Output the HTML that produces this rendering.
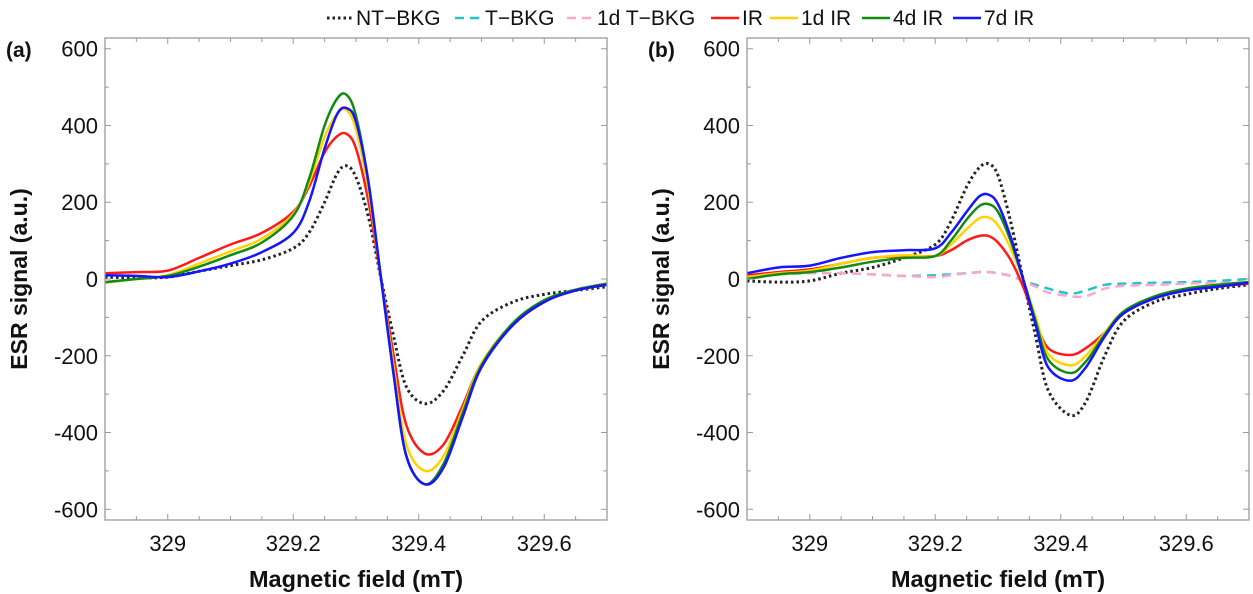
<!DOCTYPE html>
<html><head><meta charset="utf-8"><style>
body{margin:0;background:#fff;}
svg{display:block;font-family:"Liberation Sans",Arial,sans-serif;}
</style></head><body>
<svg id="chart" width="1253" height="594" viewBox="0 0 1253 594"></svg>
<script>
const fieldA = [328.9,328.95,329.0,329.05,329.1,329.15,329.2,329.225,329.25,329.27,329.285,329.3,329.32,329.34,329.36,329.38,329.41,329.44,329.47,329.5,329.55,329.6,329.65,329.7];
const aNT  = [5,3,5,20,35,50,80,120,200,275,295,265,160,0,-150,-280,-325,-290,-200,-110,-60,-40,-30,-20];
const aIR  = [15,18,22,55,90,120,175,240,330,372,378,340,200,0,-200,-380,-455,-430,-330,-220,-120,-60,-30,-15];
const a1d  = [-10,0,10,40,72,105,170,250,370,430,440,390,230,0,-230,-430,-500,-460,-340,-220,-115,-55,-30,-15];
const a4d  = [-8,0,8,32,62,95,165,260,400,470,480,425,250,0,-250,-460,-535,-480,-350,-225,-115,-55,-28,-12];
const a7d  = [10,8,5,20,40,70,120,200,340,430,445,410,250,0,-250,-460,-535,-490,-360,-230,-120,-60,-30,-15];
const fieldB = [328.9,328.95,329.0,329.05,329.1,329.15,329.2,329.225,329.25,329.27,329.285,329.3,329.32,329.34,329.36,329.38,329.415,329.44,329.47,329.5,329.55,329.6,329.65,329.7];
const bNT  = [-5,-8,-5,15,30,55,90,150,240,290,300,270,150,0,-150,-290,-355,-320,-200,-110,-60,-40,-25,-15];
const bT   = [10,12,15,15,12,8,10,12,15,18,18,15,8,-5,-15,-25,-38,-30,-15,-12,-10,-8,-5,0];
const b1dT = [10,12,15,15,12,8,5,10,15,18,18,15,8,-5,-20,-35,-45,-45,-25,-18,-15,-12,-10,-10];
const bIR  = [10,18,25,40,55,60,60,75,100,112,112,95,50,-20,-110,-180,-198,-180,-140,-90,-50,-30,-20,-12];
const b1d  = [5,15,22,40,55,62,60,90,130,158,160,140,80,0,-100,-195,-225,-200,-140,-85,-45,-25,-15,-8];
const b4d  = [0,12,18,30,45,55,60,100,155,190,195,175,100,0,-110,-210,-245,-215,-145,-85,-45,-25,-15,-8];
const b7d  = [15,30,35,55,70,75,80,120,175,215,220,195,110,0,-120,-230,-265,-230,-150,-90,-50,-30,-20,-10];
const xTicks = [329,329.2,329.4,329.6];
const xTickLabels = ["329","329.2","329.4","329.6"];
const yTicks = [600,400,200,0,-200,-400,-600];
const yTickLabels = ["600","400","200","0","-200","-400","-600"];
const legendLabels = ["NT\u2212BKG","T\u2212BKG","1d T\u2212BKG","IR","1d IR","4d IR","7d IR"];

const NS="http://www.w3.org/2000/svg";
const svg=document.getElementById('chart');
function mk(tag,attrs,parent){const e=document.createElementNS(NS,tag);for(const k in attrs)e.setAttribute(k,attrs[k]);(parent||svg).appendChild(e);return e;}
const styles={
 NT:{stroke:"#222",dash:"2.5,3",w:3},
 T:{stroke:"#22c4c4",dash:"9,6",w:2.5},
 T1:{stroke:"#ffa6cc",dash:"9,6",w:2.5},
 IR:{stroke:"#ff1a1a",dash:"",w:2.5},
 d1:{stroke:"#ffd200",dash:"",w:2.5},
 d4:{stroke:"#138a13",dash:"",w:2.5},
 d7:{stroke:"#1515ff",dash:"",w:2.5}};
const pTop=38,pBot=520,yMin=-628,yMax=628,xMin=328.9,xMax=329.7;
function smooth(pts){let d="M"+pts[0][0].toFixed(1)+","+pts[0][1].toFixed(1);
 for(let i=0;i<pts.length-1;i++){const p0=pts[Math.max(0,i-1)],p1=pts[i],p2=pts[i+1],p3=pts[Math.min(pts.length-1,i+2)];
  const c1=[p1[0]+(p2[0]-p0[0])/6,p1[1]+(p2[1]-p0[1])/6],c2=[p2[0]-(p3[0]-p1[0])/6,p2[1]-(p3[1]-p1[1])/6];
  d+=" C"+c1[0].toFixed(1)+","+c1[1].toFixed(1)+" "+c2[0].toFixed(1)+","+c2[1].toFixed(1)+" "+p2[0].toFixed(1)+","+p2[1].toFixed(1);}
 return d;}
function panel(id,left,right,letter,xs,series){
 const g=mk('g',{});
 
 
 const X=v=>left+(v-xMin)/(xMax-xMin)*(right-left);
 const Y=v=>pBot-(v-yMin)/(yMax-yMin)*(pBot-pTop);
 const clipId='clip'+id;
 const cp=mk('clipPath',{id:clipId},g);mk('rect',{x:left,y:pTop,width:right-left,height:pBot-pTop},cp);
 const sg=mk('g',{'clip-path':'url(#'+clipId+')'},g);
 series.forEach(([key,vals])=>{const s=styles[key];
  const p=mk('path',{d:smooth(xs.map((x,i)=>[X(x),Y(vals[i])])),fill:"none",stroke:s.stroke,'stroke-width':s.w,'stroke-dasharray':s.dash,'stroke-linejoin':'round'},sg);
  
  });
 const f=mk('rect',{x:left,y:pTop,width:right-left,height:pBot-pTop,fill:"none",stroke:"#9a9a9a",'stroke-width':1.3},g);
 
 
 for(let v=328.9;v<=329.701;v+=0.05){const x=X(v);const major=Math.abs(((v-329)/0.2)-Math.round((v-329)/0.2))<1e-6;const L=major?6:4;
  mk('line',{x1:x,x2:x,y1:pBot,y2:pBot-L,stroke:"#9a9a9a"},g);mk('line',{x1:x,x2:x,y1:pTop,y2:pTop+L,stroke:"#9a9a9a"},g);}
 for(let v=-600;v<=600;v+=100){const y=Y(v);const L=(v%200===0)?6:4;
  mk('line',{x1:left,x2:left+L,y1:y,y2:y,stroke:"#9a9a9a"},g);mk('line',{x1:right,x2:right-L,y1:y,y2:y,stroke:"#9a9a9a"},g);}
 xTicks.forEach((v,i)=>{const t=mk('text',{x:X(v),y:551,'font-size':22,'text-anchor':'middle',fill:"#111"},g);t.textContent=xTickLabels[i];
  
  });
 yTicks.forEach((v,i)=>{const t=mk('text',{x:left-7,y:Y(v)+8,'font-size':22,'text-anchor':'end',fill:"#111"},g);t.textContent=yTickLabels[i];
  
  });
 const xt=mk('text',{x:(left+right)/2,y:587,'font-size':23.5,'font-weight':'bold','text-anchor':'middle',fill:"#111"},g);xt.textContent="Magnetic field (mT)";
 
 
 const yx=left-78,yy=(pTop+pBot)/2;
 const yt=mk('text',{x:yx,y:yy,'font-size':23,'font-weight':'bold','text-anchor':'middle',fill:"#111",transform:`rotate(-90 ${yx} ${yy})`},g);yt.textContent="ESR signal (a.u.)";
 
 
 const pl=mk('text',{x:left-99,y:57,'font-size':21,'font-weight':'bold',fill:"#111"},g);pl.textContent=letter;
 
 
}
panel('a',105,607,'(a)',fieldA,[["NT",aNT],["IR",aIR],["d1",a1d],["d4",a4d],["d7",a7d]]);
panel('b',747,1249,'(b)',fieldB,[["NT",bNT],["T",bT],["T1",b1dT],["IR",bIR],["d1",b1d],["d4",b4d],["d7",b7d]]);
const lg=mk('g',{});


const lKeys=["NT","T","T1","IR","d1","d4","d7"];
const lLine=[[327,353],[455,482],[567,594],[711,739],[770,798],[862,890],[953,981]];
lKeys.forEach((k,i)=>{const s=styles[k];
 const e=mk('g',{},lg);
 
 
 mk('line',{x1:lLine[i][0],x2:lLine[i][1],y1:18,y2:18,stroke:s.stroke,'stroke-width':s.w,'stroke-dasharray':s.dash},e);
 const t=mk('text',{x:lLine[i][1]+3,y:25,'font-size':21,fill:"#111"},e);t.textContent=legendLabels[i];});
</script>
</body></html>
